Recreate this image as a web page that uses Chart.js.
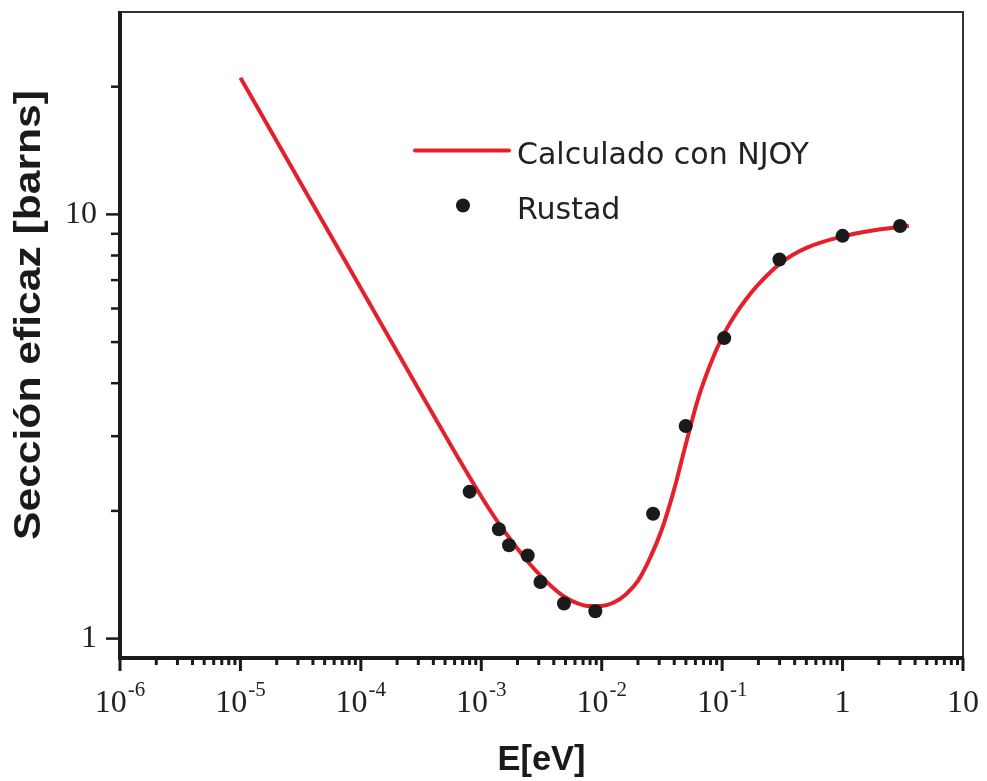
<!DOCTYPE html>
<html>
<head>
<meta charset="utf-8">
<script src="https://cdn.jsdelivr.net/npm/chart.js@4/dist/chart.umd.min.js"></script>
<style>
  html, body { margin: 0; padding: 0; background: #ffffff; }
  #wrap { position: relative; width: 987px; height: 781px; }
</style>
</head>
<body>
<div id="wrap"><canvas id="c" width="987" height="781"></canvas></div>
<script>
// ---- Data ----
const energyCurve = [1e-5, 3.16e-5, 1e-4, 3.16e-4, 6.31e-4, 1e-3, 1.41e-3, 2.0e-3, 2.51e-3, 3.16e-3, 3.98e-3, 5.01e-3, 6.31e-3, 7.94e-3, 1e-2, 1.26e-2, 1.585e-2, 2.0e-2, 2.51e-2, 3.16e-2, 3.98e-2, 5.01e-2, 6.31e-2, 7.94e-2, 0.1, 0.126, 0.158, 0.2, 0.316, 0.501, 1.0, 1.78, 3.55];
const sigmaCurve  = [21.0, 11.86, 6.70, 3.784, 2.692, 2.163, 1.862, 1.629, 1.503, 1.400, 1.315, 1.250, 1.211, 1.193, 1.194, 1.216, 1.271, 1.368, 1.545, 1.810, 2.239, 2.884, 3.673, 4.416, 5.129, 5.754, 6.310, 6.839, 7.727, 8.337, 8.872, 9.162, 9.397];

const energyRustad = [8e-4, 1.4e-3, 1.7e-3, 2.43e-3, 3.1e-3, 4.86e-3, 8.85e-3, 0.0267, 0.0498, 0.104, 0.299, 1.0, 3.0];
const sigmaRustad  = [2.22, 1.81, 1.66, 1.57, 1.36, 1.21, 1.16, 1.97, 3.17, 5.11, 7.83, 8.90, 9.39];

const seriesLabels = ['Calculado con NJOY', 'Rustad'];

const xTickValues = [1e-6, 1e-5, 1e-4, 1e-3, 1e-2, 1e-1, 1, 10];
const xTickBase   = ['10', '10', '10', '10', '10', '10', '1', '10'];
const xTickExp    = ['-6', '-5', '-4', '-3', '-2', '-1', '', ''];
const yTickLabelValues = [1, 10];

const xTitle = 'E[eV]';
const yTitle = 'Sección eficaz [barns]';

// ---- Build datasets ----
const curvePts  = energyCurve.map((e, i) => ({ x: e, y: sigmaCurve[i] }));
const rustadPts = energyRustad.map((e, i) => ({ x: e, y: sigmaRustad[i] }));

const RED = '#e5202a';
const INK = '#1a1a1a';

function mantissa(v) {
  const p = Math.pow(10, Math.floor(Math.log10(v) + 1e-9));
  return v / p;
}
function isInt(m) { return Math.abs(m - Math.round(m)) < 1e-6; }

const decorPlugin = {
  id: 'decor',
  afterDraw(chart) {
    const { ctx, chartArea: a, scales } = chart;
    const xs = scales.x, ys = scales.y;
    ctx.save();
    // thin top / right frame
    ctx.strokeStyle = '#333';
    ctx.lineWidth = 2;
    ctx.beginPath();
    ctx.moveTo(a.left, a.top);
    ctx.lineTo(a.right, a.top);
    ctx.lineTo(a.right, a.bottom);
    ctx.stroke();
    // thick left / bottom axes
    ctx.strokeStyle = INK;
    ctx.lineWidth = 4;
    ctx.beginPath();
    ctx.moveTo(a.left, a.top - 1);
    ctx.lineTo(a.left, a.bottom);
    ctx.lineTo(a.right + 1, a.bottom);
    ctx.stroke();

    // x ticks (major & minor)
    ctx.lineWidth = 3;
    xs.ticks.forEach(t => {
      const v = t.value;
      if (v < xs.min * 0.999 || v > xs.max * 1.001) return;
      const m = mantissa(v);
      if (!isInt(m)) return;
      const major = Math.abs(m - 1) < 1e-6;
      const px = xs.getPixelForValue(v);
      ctx.beginPath();
      ctx.moveTo(px, a.bottom);
      ctx.lineTo(px, a.bottom + (major ? 13 : 7));
      ctx.stroke();
    });
    // y ticks
    ctx.lineWidth = 2.5;
    ys.ticks.forEach(t => {
      const v = t.value;
      if (v < 1 || v >= ys.max * 0.999) return;
      const m = mantissa(v);
      if (!isInt(m)) return;
      const major = Math.abs(m - 1) < 1e-6;
      const py = ys.getPixelForValue(v);
      ctx.beginPath();
      ctx.moveTo(a.left, py);
      ctx.lineTo(a.left - (major ? 14 : 9), py);
      ctx.stroke();
    });

    // x tick labels with superscript exponents
    ctx.fillStyle = '#222';
    ctx.textBaseline = 'alphabetic';
    ctx.textAlign = 'left';
    const baseFont = '32px "Liberation Serif", "Times New Roman", serif';
    const expFont = '21px "Liberation Serif", "Times New Roman", serif';
    xTickValues.forEach((v, i) => {
      const px = xs.getPixelForValue(v);
      ctx.font = baseFont;
      const wb = ctx.measureText(xTickBase[i]).width;
      ctx.font = expFont;
      const we = xTickExp[i] ? ctx.measureText(xTickExp[i]).width + 1 : 0;
      const start = px - (wb + we) / 2;
      ctx.font = baseFont;
      ctx.fillText(xTickBase[i], start, a.bottom + 54);
      if (xTickExp[i]) {
        ctx.font = expFont;
        ctx.fillText(xTickExp[i], start + wb + 1, a.bottom + 38);
      }
    });

    // axis titles
    ctx.fillStyle = '#1a1a1a';
    ctx.font = 'bold 34px "Liberation Sans", Arial, sans-serif';
    ctx.textAlign = 'center';
    ctx.textBaseline = 'middle';
    {
      const w = ctx.measureText(xTitle).width;
      const sx = 88 / w;
      ctx.save();
      ctx.translate((a.left + a.right) / 2, 760);
      ctx.scale(sx, 1.05);
      ctx.fillText(xTitle, 0, 0);
      ctx.restore();
    }
    ctx.font = 'bold 36px "Liberation Sans", Arial, sans-serif';
    {
      const w = ctx.measureText(yTitle).width;
      const sx = 450 / w;
      ctx.save();
      ctx.translate(30, 315);
      ctx.rotate(-Math.PI / 2);
      ctx.scale(sx, 1);
      ctx.fillText(yTitle, 0, 0);
      ctx.restore();
    }

    // legend (inside the plot)
    ctx.textAlign = 'left';
    ctx.textBaseline = 'alphabetic';
    ctx.font = '30px "DejaVu Sans", sans-serif';
    ctx.fillStyle = '#222';
    ctx.strokeStyle = RED;
    ctx.lineWidth = 4;
    ctx.lineCap = 'round';
    ctx.beginPath();
    ctx.moveTo(415, 150.5);
    ctx.lineTo(509, 150.5);
    ctx.stroke();
    ctx.fillText(seriesLabels[0], 517, 164);
    ctx.fillStyle = INK;
    ctx.beginPath();
    ctx.arc(463, 205.5, 7, 0, Math.PI * 2);
    ctx.fill();
    ctx.fillStyle = '#222';
    ctx.fillText(seriesLabels[1], 517, 219);
    ctx.restore();
  }
};

new Chart(document.getElementById('c'), {
  type: 'scatter',
  data: {
    datasets: [
      {
        label: seriesLabels[1],
        data: rustadPts,
        showLine: false,
        pointRadius: 7,
        pointBackgroundColor: INK,
        pointBorderColor: INK,
        pointBorderWidth: 0,
        order: 0
      },
      {
        type: 'line',
        label: seriesLabels[0],
        data: curvePts,
        borderColor: RED,
        borderWidth: 4,
        pointRadius: 0,
        fill: false,
        cubicInterpolationMode: 'monotone',
        order: 1
      }
    ]
  },
  options: {
    responsive: false,
    animation: false,
    devicePixelRatio: 1,
    layout: { padding: { top: 12, right: 24, left: 0, bottom: 0 } },
    plugins: { legend: { display: false }, tooltip: { enabled: false }, title: { display: false } },
    scales: {
      x: {
        type: 'logarithmic',
        position: 'bottom',
        min: 1e-6,
        max: 10,
        grid: { display: false, drawTicks: false },
        border: { display: false },
        ticks: { display: false, autoSkip: false },
        afterFit(scale) { scale.height = 123; scale.paddingLeft = 0; scale.paddingRight = 0; }
      },
      y: {
        type: 'logarithmic',
        position: 'left',
        min: 0.9,
        max: 30,
        grid: { display: false, drawTicks: false },
        border: { display: false },
        ticks: {
          autoSkip: false,
          padding: 23,
          color: '#222',
          font: { family: '"Liberation Serif", "Times New Roman", serif', size: 32 },
          callback: (v) => yTickLabelValues.includes(v) ? String(v) : ''
        },
        afterFit(scale) { scale.width = 120; scale.paddingTop = 0; scale.paddingBottom = 0; }
      }
    }
  },
  plugins: [decorPlugin]
});
</script>
</body>
</html>
